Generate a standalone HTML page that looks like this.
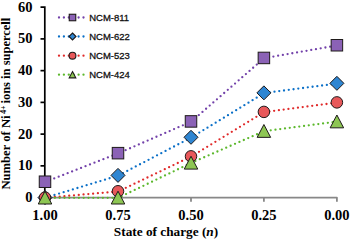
<!DOCTYPE html>
<html><head><meta charset="utf-8"><style>
html,body{margin:0;padding:0;background:#fff;}
body{width:350px;height:240px;overflow:hidden;}
svg{display:block;}
.leg{font-family:"Liberation Sans",sans-serif;font-size:9.95px;fill:#111;stroke:#111;stroke-width:0.3px;}
.tk{font-family:"Liberation Serif",serif;font-weight:bold;font-size:14.5px;fill:#000;}
.ttl{font-family:"Liberation Serif",serif;font-weight:bold;font-size:13.6px;fill:#000;}
</style></head><body>
<svg width="350" height="240" viewBox="0 0 350 240">
<path d="M40.5 7.16 H44.8 V197.6" fill="none" stroke="#000" stroke-width="1.7"/>
<path d="M40.5 165.86 H44.8" stroke="#000" stroke-width="1.7"/>
<path d="M40.5 134.12 H44.8" stroke="#000" stroke-width="1.7"/>
<path d="M40.5 102.38 H44.8" stroke="#000" stroke-width="1.7"/>
<path d="M40.5 70.64 H44.8" stroke="#000" stroke-width="1.7"/>
<path d="M40.5 38.90 H44.8" stroke="#000" stroke-width="1.7"/>
<path d="M45.1 197.6 H336.9 V201.8" fill="none" stroke="#888" stroke-width="1.8" stroke-linejoin="round"/>
<path d="M118.0 197.6 V201.8" stroke="#888" stroke-width="1.8"/>
<path d="M191.0 197.6 V201.8" stroke="#888" stroke-width="1.8"/>
<path d="M263.9 197.6 V201.8" stroke="#888" stroke-width="1.8"/>
<polyline transform="translate(0.3 0.2)" points="45.00,181.73 118.00,153.16 191.00,121.42 263.90,57.94 336.90,45.25" fill="none" stroke="#7342aa" stroke-width="2.3" stroke-dasharray="0 4.8" stroke-linecap="round"/>
<polyline transform="translate(0.3 0.2)" points="45.00,197.60 118.00,175.38 191.00,137.29 263.90,92.86 336.90,83.34" fill="none" stroke="#0b70c8" stroke-width="2.3" stroke-dasharray="0 4.8" stroke-linecap="round"/>
<polyline transform="translate(0.3 0.2)" points="45.00,197.60 118.00,191.25 191.00,156.34 263.90,111.90 336.90,102.38" fill="none" stroke="#e02a2a" stroke-width="2.3" stroke-dasharray="0 4.8" stroke-linecap="round"/>
<polyline transform="translate(0.3 0.2)" points="45.00,197.60 118.00,197.60 191.00,162.69 263.90,130.95 336.90,121.42" fill="none" stroke="#5cb82c" stroke-width="2.3" stroke-dasharray="0 4.8" stroke-linecap="round"/>
<rect x="39.25" y="175.98" width="11.50" height="11.50" fill="#8b62b6" stroke="#1e1a1a" stroke-width="1.0"/>
<rect x="112.25" y="147.41" width="11.50" height="11.50" fill="#8b62b6" stroke="#1e1a1a" stroke-width="1.0"/>
<rect x="185.25" y="115.67" width="11.50" height="11.50" fill="#8b62b6" stroke="#1e1a1a" stroke-width="1.0"/>
<rect x="258.15" y="52.19" width="11.50" height="11.50" fill="#8b62b6" stroke="#1e1a1a" stroke-width="1.0"/>
<rect x="331.15" y="39.50" width="11.50" height="11.50" fill="#8b62b6" stroke="#1e1a1a" stroke-width="1.0"/>
<polygon points="45.00,190.60 52.00,197.60 45.00,204.60 38.00,197.60" fill="#2f86d2" stroke="#1e1a1a" stroke-width="1.0"/>
<polygon points="118.00,168.38 125.00,175.38 118.00,182.38 111.00,175.38" fill="#2f86d2" stroke="#1e1a1a" stroke-width="1.0"/>
<polygon points="191.00,130.29 198.00,137.29 191.00,144.29 184.00,137.29" fill="#2f86d2" stroke="#1e1a1a" stroke-width="1.0"/>
<polygon points="263.90,85.86 270.90,92.86 263.90,99.86 256.90,92.86" fill="#2f86d2" stroke="#1e1a1a" stroke-width="1.0"/>
<polygon points="336.90,76.34 343.90,83.34 336.90,90.34 329.90,83.34" fill="#2f86d2" stroke="#1e1a1a" stroke-width="1.0"/>
<circle cx="45.00" cy="197.60" r="5.75" fill="#e8585a" stroke="#1e1a1a" stroke-width="1.0"/>
<circle cx="118.00" cy="191.25" r="5.75" fill="#e8585a" stroke="#1e1a1a" stroke-width="1.0"/>
<circle cx="191.00" cy="156.34" r="5.75" fill="#e8585a" stroke="#1e1a1a" stroke-width="1.0"/>
<circle cx="263.90" cy="111.90" r="5.75" fill="#e8585a" stroke="#1e1a1a" stroke-width="1.0"/>
<circle cx="336.90" cy="102.38" r="5.75" fill="#e8585a" stroke="#1e1a1a" stroke-width="1.0"/>
<polygon points="45.00,191.19 51.75,204.01 38.25,204.01" fill="#8dc653" stroke="#1e1a1a" stroke-width="1.0" stroke-linejoin="miter"/>
<polygon points="118.00,191.19 124.75,204.01 111.25,204.01" fill="#8dc653" stroke="#1e1a1a" stroke-width="1.0" stroke-linejoin="miter"/>
<polygon points="191.00,156.27 197.75,169.10 184.25,169.10" fill="#8dc653" stroke="#1e1a1a" stroke-width="1.0" stroke-linejoin="miter"/>
<polygon points="263.90,124.53 270.65,137.36 257.15,137.36" fill="#8dc653" stroke="#1e1a1a" stroke-width="1.0" stroke-linejoin="miter"/>
<polygon points="336.90,115.01 343.65,127.84 330.15,127.84" fill="#8dc653" stroke="#1e1a1a" stroke-width="1.0" stroke-linejoin="miter"/>
<path d="M59 17.5 H84" stroke="#7342aa" stroke-width="2.3" stroke-dasharray="0 4.9" stroke-linecap="round"/>
<rect x="69.25" y="14.25" width="6.50" height="6.50" fill="#8b62b6" stroke="#1e1a1a" stroke-width="1.1"/>
<text transform="translate(89.2 20.50) scale(0.955 1)" class="leg">NCM-811</text>
<path d="M59 36.5 H84" stroke="#0b70c8" stroke-width="2.3" stroke-dasharray="0 4.9" stroke-linecap="round"/>
<polygon points="72.50,33.00 76.00,36.50 72.50,40.00 69.00,36.50" fill="#2f86d2" stroke="#1e1a1a" stroke-width="1.1"/>
<text transform="translate(89.2 39.50) scale(0.955 1)" class="leg">NCM-622</text>
<path d="M59 55.7 H84" stroke="#e02a2a" stroke-width="2.3" stroke-dasharray="0 4.9" stroke-linecap="round"/>
<circle cx="72.50" cy="55.70" r="3.40" fill="#e8585a" stroke="#1e1a1a" stroke-width="1.1"/>
<text transform="translate(89.2 58.70) scale(0.955 1)" class="leg">NCM-523</text>
<path d="M59 74.7 H84" stroke="#5cb82c" stroke-width="2.3" stroke-dasharray="0 4.9" stroke-linecap="round"/>
<polygon points="72.50,71.56 75.80,77.84 69.20,77.84" fill="#8dc653" stroke="#1e1a1a" stroke-width="1.1" stroke-linejoin="miter"/>
<text transform="translate(89.2 77.70) scale(0.955 1)" class="leg">NCM-424</text>
<text x="32.5" y="202.15" class="tk" text-anchor="end">0</text>
<text x="32.5" y="170.41" class="tk" text-anchor="end">10</text>
<text x="32.5" y="138.67" class="tk" text-anchor="end">20</text>
<text x="32.5" y="106.93" class="tk" text-anchor="end">30</text>
<text x="32.5" y="75.19" class="tk" text-anchor="end">40</text>
<text x="32.5" y="43.45" class="tk" text-anchor="end">50</text>
<text x="32.5" y="11.71" class="tk" text-anchor="end">60</text>
<text x="45.00" y="219.6" class="tk" text-anchor="middle">1.00</text>
<text x="118.00" y="219.6" class="tk" text-anchor="middle">0.75</text>
<text x="191.00" y="219.6" class="tk" text-anchor="middle">0.50</text>
<text x="263.90" y="219.6" class="tk" text-anchor="middle">0.25</text>
<text x="336.90" y="219.6" class="tk" text-anchor="middle">0.00</text>
<text transform="translate(166 235.6) scale(1.03 1)" class="ttl" text-anchor="middle" style="font-size:12.9px">State of charge (<tspan font-style="italic">n</tspan>)</text>
<g transform="translate(10.4 0) scale(1.04 1) rotate(-90)"><text x="-189.6" y="0" class="ttl" style="font-size:12.65px">Number of Ni</text><text x="-113.8" y="-4.3" class="ttl" style="font-size:7.6px">4+</text><text x="-17.7" y="0" class="ttl" text-anchor="end" style="font-size:12.5px">ions in supercell</text></g>
</svg>
</body></html>
